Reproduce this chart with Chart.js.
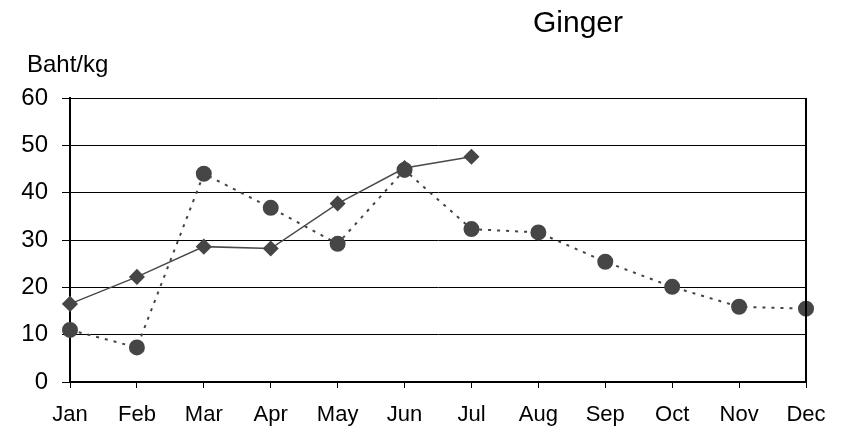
<!DOCTYPE html>
<html>
<head>
<meta charset="utf-8">
<script src="https://cdn.jsdelivr.net/npm/chart.js@4.4.0/dist/chart.umd.min.js"></script>
<style>
  html, body { margin: 0; padding: 0; background: #fff; }
  #wrap { position: relative; width: 843px; height: 433px; font-family: 'Liberation Sans', Arial, sans-serif; }
  #title { position: absolute; left: 528px; top: 5px; width: 100px; text-align: center; font-size: 30px; color: #000; }
  #yLabel { position: absolute; left: 27px; top: 50px; font-size: 24px; color: #000; }
</style>
</head>
<body>
<div id="wrap">
  <canvas id="chart" width="843" height="433"></canvas>
  <div id="title">Ginger</div>
  <div id="yLabel">Baht/kg</div>
</div>
<script>
// ===== DATA =====
var months = ['Jan', 'Feb', 'Mar', 'Apr', 'May', 'Jun', 'Jul', 'Aug', 'Sep', 'Oct', 'Nov', 'Dec'];
var priceDiamond = [16.5, 22.2, 28.6, 28.2, 37.7, 45.2, 47.6, null, null, null, null, null];
var priceCircle = [11.0, 7.3, 44.0, 36.8, 29.2, 44.8, 32.3, 31.6, 25.4, 20.1, 15.9, 15.5];
var yTicks = [0, 10, 20, 30, 40, 50, 60];

// right frame line of the plot area
var frameRight = {
  id: 'frameRight',
  afterDraw: function(chart) {
    var a = chart.chartArea, ctx = chart.ctx;
    ctx.save();
    ctx.strokeStyle = '#000';
    ctx.lineWidth = 2;
    ctx.beginPath();
    ctx.moveTo(a.right, a.top);
    ctx.lineTo(a.right, a.bottom);
    ctx.stroke();
    ctx.restore();
  }
};

new Chart(document.getElementById('chart'), {
  type: 'line',
  data: {
    labels: months,
    datasets: [{
      data: priceDiamond,
      borderColor: '#4a4a4a',
      borderWidth: 1.5,
      pointStyle: 'rectRot',
      pointRadius: 7,
      pointBackgroundColor: '#464646',
      pointBorderColor: '#464646',
      tension: 0,
      spanGaps: false
    }, {
      data: priceCircle,
      borderColor: '#444',
      borderWidth: 2,
      borderDash: [3, 6],
      pointStyle: 'circle',
      pointRadius: 7,
      pointBackgroundColor: '#464646',
      pointBorderColor: '#464646',
      tension: 0
    }]
  },
  options: {
    responsive: false,
    animation: false,
    layout: { padding: { top: 98, right: 37, left: 0, bottom: 0 } },
    plugins: {
      legend: { display: false },
      tooltip: { enabled: false }
    },
    scales: {
      x: {
        offset: false,
        grid: { drawOnChartArea: false, drawTicks: true, tickLength: 6, color: '#000' },
        border: { display: true, color: '#000', width: 2 },
        ticks: { color: '#000', font: { family: 'Liberation Sans', size: 22 }, padding: 14, maxRotation: 0 },
        afterFit: function(s) { s.height = 51; }
      },
      y: {
        min: yTicks[0],
        max: yTicks[yTicks.length - 1],
        afterBuildTicks: function(s) { s.ticks = yTicks.map(function(v) { return { value: v }; }); },
        grid: { color: '#000', lineWidth: 1, tickLength: 8 },
        border: { display: true, color: '#000', width: 2 },
        ticks: { color: '#000', font: { family: 'Liberation Sans', size: 24 }, padding: 14 },
        afterFit: function(s) { s.width = 70; }
      }
    }
  },
  plugins: [frameRight]
});
</script>
</body>
</html>
